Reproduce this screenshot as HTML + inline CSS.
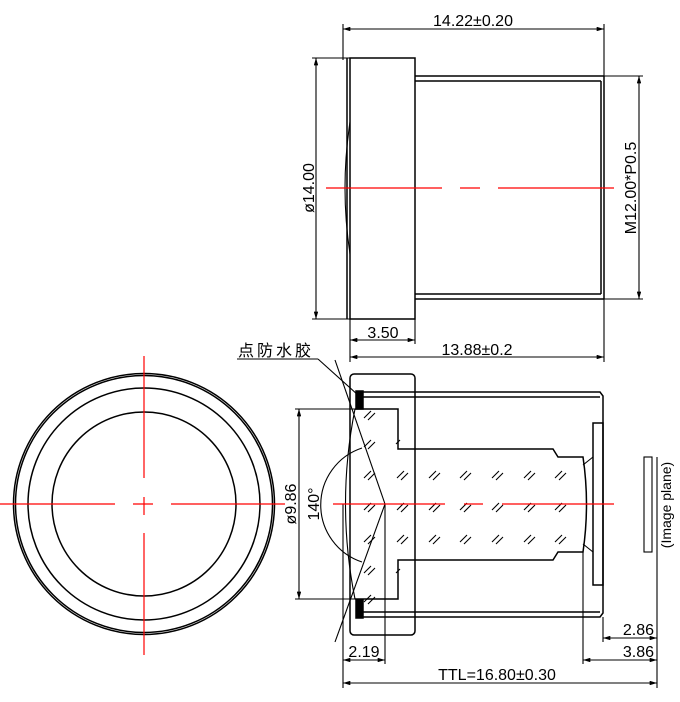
<!DOCTYPE html>
<html><head><meta charset="utf-8"><style>
html,body{margin:0;padding:0;background:#fff;width:680px;height:702px;overflow:hidden}
svg{display:block}
text{font-family:"Liberation Sans","Noto Sans CJK SC",sans-serif;fill:#000}
</style></head><body>
<svg width="680" height="702" viewBox="0 0 680 702" xmlns="http://www.w3.org/2000/svg">
<defs>
<marker id="a" viewBox="0 0 10 6" refX="10" refY="3" markerWidth="8" markerHeight="4" orient="auto-start-reverse"><path d="M0,0L10,3L0,6z" fill="#000"/></marker>
</defs>
<g fill="none" stroke="#000" stroke-width="1.5">
<line x1="343" y1="24" x2="343" y2="60" stroke-width="1.1"/>
<line x1="604" y1="24" x2="604" y2="76" stroke-width="1.1"/>
<line x1="343" y1="29" x2="604" y2="29" stroke-width="1.1" marker-start="url(#a)" marker-end="url(#a)"/>
<rect x="350" y="58" width="65" height="261"/>
<line x1="347" y1="58" x2="347" y2="319"/>
<path d="M350,122 Q340,188 350,254" stroke-width="1.1"/>
<line x1="415" y1="76" x2="604" y2="76"/>
<line x1="415" y1="81" x2="601" y2="81"/>
<line x1="415" y1="299" x2="604" y2="299"/>
<line x1="415" y1="294" x2="601" y2="294"/>
<line x1="604" y1="76" x2="604" y2="299"/>
<line x1="601" y1="81" x2="601" y2="294"/>
<line x1="312" y1="58" x2="350" y2="58" stroke-width="1.1"/>
<line x1="312" y1="319" x2="350" y2="319" stroke-width="1.1"/>
<line x1="316" y1="58" x2="316" y2="319" stroke-width="1.1" marker-start="url(#a)" marker-end="url(#a)"/>
<line x1="604" y1="76" x2="643" y2="76" stroke-width="1.1"/>
<line x1="604" y1="299" x2="643" y2="299" stroke-width="1.1"/>
<line x1="639" y1="76" x2="639" y2="299" stroke-width="1.1" marker-start="url(#a)" marker-end="url(#a)"/>
<line x1="350" y1="319" x2="350" y2="362" stroke-width="1.1"/>
<line x1="415" y1="319" x2="415" y2="344" stroke-width="1.1"/>
<line x1="350" y1="340" x2="415" y2="340" stroke-width="1.1" marker-start="url(#a)" marker-end="url(#a)"/>
<line x1="604" y1="299" x2="604" y2="362" stroke-width="1.1"/>
<line x1="350" y1="357" x2="604" y2="357" stroke-width="1.1" marker-start="url(#a)" marker-end="url(#a)"/>

<circle cx="144" cy="504" r="130.5"/>
<circle cx="144" cy="504" r="128.5"/>
<circle cx="144" cy="504" r="116"/>
<circle cx="144" cy="504" r="92"/>

<rect x="350" y="374" width="65" height="261" rx="4"/>
<path d="M363,392 L600,392 L603,396 L603,613 L600,617 L363,617"/>
<line x1="363" y1="397" x2="600" y2="397"/>
<line x1="363" y1="612" x2="600" y2="612"/>
<rect x="593" y="423" width="10" height="162"/>
<rect x="356" y="391" width="7" height="18" fill="#000"/>
<rect x="356" y="600" width="7" height="18" fill="#000"/>
<path d="M355,409 L398,409 L398,449 L553,449 L558,457 L583,457 Q590,504 583,552 L558,552 L553,560 L398,560 L398,599 L355,599"/>
<path d="M355,409 Q336,504 355,599" stroke-width="1.1"/>
<line x1="583" y1="465" x2="593" y2="457" stroke-width="1.1"/>
<line x1="583" y1="544" x2="593" y2="552" stroke-width="1.1"/>
<path d="M362,448 A60,60 0 0 0 362,562" stroke-width="1.1"/>
<line x1="335" y1="360" x2="385" y2="504" stroke-width="1.1"/>
<line x1="385" y1="504" x2="335" y2="642" stroke-width="1.1"/>
<line x1="385" y1="504" x2="385" y2="664" stroke-width="1.1"/>
<line x1="343" y1="504" x2="343" y2="688" stroke-width="1.1"/>
<line x1="583" y1="552" x2="583" y2="664" stroke-width="1.1"/>
<line x1="603" y1="617" x2="603" y2="642" stroke-width="1.1"/>
<line x1="657" y1="457" x2="657" y2="688" stroke-width="1.1"/>
<rect x="644" y="457" width="8" height="95" stroke-width="1.1"/>
<line x1="295" y1="409" x2="355" y2="409" stroke-width="1.1"/>
<line x1="295" y1="599" x2="355" y2="599" stroke-width="1.1"/>
<line x1="299" y1="409" x2="299" y2="599" stroke-width="1.1" marker-start="url(#a)" marker-end="url(#a)"/>
<line x1="343" y1="660" x2="385" y2="660" stroke-width="1.1" marker-start="url(#a)" marker-end="url(#a)"/>
<line x1="343" y1="683" x2="657" y2="683" stroke-width="1.1" marker-start="url(#a)" marker-end="url(#a)"/>
<line x1="583" y1="660" x2="657" y2="660" stroke-width="1.1" marker-start="url(#a)" marker-end="url(#a)"/>
<line x1="603" y1="638" x2="657" y2="638" stroke-width="1.1" marker-start="url(#a)" marker-end="url(#a)"/>
<line x1="237" y1="359" x2="318" y2="359" stroke-width="1.1"/>
<line x1="318" y1="359" x2="358" y2="395" stroke-width="1.1"/>
</g>
<g stroke="#000" stroke-width="1.1" fill="none">
<path d="M364,478 l7,-7 m-3,9 l7,-7 M397,478 l7,-7 m-3,9 l7,-7 M429,478 l7,-7 m-3,9 l7,-7 M460,478 l7,-7 m-3,9 l7,-7 M492,478 l7,-7 m-3,9 l7,-7 M524,478 l7,-7 m-3,9 l7,-7 M555,478 l7,-7 m-3,9 l7,-7"/>
<path transform="translate(0,32)" d="M364,478 l7,-7 m-3,9 l7,-7 M397,478 l7,-7 m-3,9 l7,-7 M429,478 l7,-7 m-3,9 l7,-7 M460,478 l7,-7 m-3,9 l7,-7 M492,478 l7,-7 m-3,9 l7,-7 M524,478 l7,-7 m-3,9 l7,-7 M555,478 l7,-7 m-3,9 l7,-7"/>
<path transform="translate(0,64)" d="M364,478 l7,-7 m-3,9 l7,-7 M397,478 l7,-7 m-3,9 l7,-7 M429,478 l7,-7 m-3,9 l7,-7 M460,478 l7,-7 m-3,9 l7,-7 M492,478 l7,-7 m-3,9 l7,-7 M524,478 l7,-7 m-3,9 l7,-7 M555,478 l7,-7 m-3,9 l7,-7"/>
<path d="M364,418 l7,-7 m-3,9 l7,-7 M364,447 l7,-7 m-3,9 l7,-7 M364,573 l7,-7 m-3,9 l7,-7 M364,602 l7,-7 m-3,9 l7,-7 M396,444 l4,-4 M396,573 l4,-4"/>
</g>
<g stroke="#f00" stroke-width="1.2">
<line x1="326" y1="188" x2="442" y2="188"/><line x1="460" y1="188" x2="480" y2="188"/><line x1="498" y1="188" x2="614" y2="188"/>
<line x1="0" y1="504" x2="115" y2="504"/><line x1="133" y1="504" x2="153" y2="504"/><line x1="171" y1="504" x2="285" y2="504"/>
<line x1="144" y1="356" x2="144" y2="478"/><line x1="144" y1="497" x2="144" y2="515"/><line x1="144" y1="533" x2="144" y2="655"/>
<line x1="333" y1="504" x2="445" y2="504"/><line x1="464" y1="504" x2="483" y2="504"/><line x1="502" y1="504" x2="614" y2="504"/>
</g>
<g font-size="16">
<text x="473" y="26" text-anchor="middle">14.22±0.20</text>
<text x="383" y="338" text-anchor="middle">3.50</text>
<text x="477" y="355" text-anchor="middle">13.88±0.2</text>
<text transform="translate(314,188) rotate(-90)" text-anchor="middle">ø14.00</text>
<text transform="translate(636,188) rotate(-90)" text-anchor="middle">M12.00*P0.5</text>
<text transform="translate(296,504) rotate(-90)" text-anchor="middle">ø9.86</text>
<text transform="translate(319,504) rotate(-90)" text-anchor="middle">140°</text>
<text x="364" y="657" text-anchor="middle">2.19</text>
<text x="497" y="680" text-anchor="middle">TTL=16.80±0.30</text>
<text x="654" y="657" text-anchor="end">3.86</text>
<text x="654" y="635" text-anchor="end">2.86</text>
<text x="238" y="356" font-size="16" letter-spacing="3">点防水胶</text>
<text transform="translate(671,505) rotate(-90)" text-anchor="middle" font-size="14">(Image plane)</text>
</g>
</svg>
</body></html>
